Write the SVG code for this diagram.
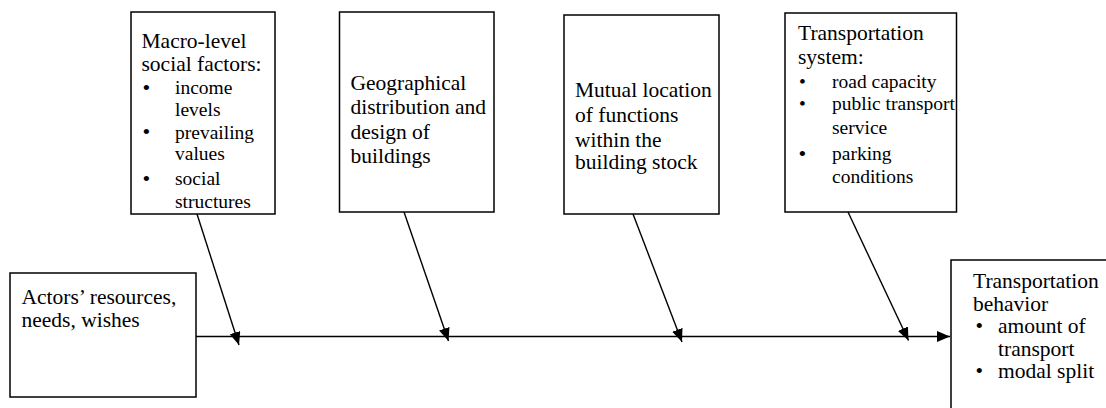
<svg xmlns="http://www.w3.org/2000/svg" width="1106" height="408" viewBox="0 0 1106 408">
  <style>
    .box { fill: #ffffff; stroke: #000000; stroke-width: 1.5; }
    .txt { font-family: 'Liberation Serif', Tinos, 'Times New Roman', 'DejaVu Serif', serif; font-size: 21.5px; fill: #000000; }
    .item { font-size: 19.5px; }
    .dot { font-size: 22px; }
    .link { fill: none; stroke: #000000; stroke-width: 1.4; marker-end: url(#head); }
  </style>
  <defs>
    <marker id="head" markerUnits="userSpaceOnUse" markerWidth="14" markerHeight="12" refX="13" refY="5.5" orient="auto">
      <path d="M0,0 L13,5.5 L0,11 Z" fill="#000000"/>
    </marker>
  </defs>
  <rect width="1106" height="408" fill="#ffffff"/>

  <g id="node-actors">
    <rect class="box" x="10" y="273" width="186" height="124"/>
    <text class="txt" x="21.5" y="303.5">Actors’ resources,</text>
    <text class="txt" x="21.5" y="326.5">needs, wishes</text>
  </g>

  <g id="node-macro">
    <rect class="box" x="131" y="12" width="144" height="202"/>
    <text class="txt" x="141.5" y="47.5">Macro-level</text>
    <text class="txt" x="141.5" y="71">social factors:</text>
    <text class="txt dot" x="142.5" y="94.5">•</text>
    <text class="txt item" x="175" y="94">income</text>
    <text class="txt item" x="175" y="115.5">levels</text>
    <text class="txt dot" x="142.5" y="139">•</text>
    <text class="txt item" x="175" y="138.5">prevailing</text>
    <text class="txt item" x="175" y="160">values</text>
    <text class="txt dot" x="142.5" y="185.5">•</text>
    <text class="txt item" x="175" y="185">social</text>
    <text class="txt item" x="175" y="208">structures</text>
  </g>

  <g id="node-geography">
    <rect class="box" x="339.5" y="12" width="154.5" height="200"/>
    <text class="txt" x="350.5" y="89.5">Geographical</text>
    <text class="txt" x="350.5" y="114">distribution and</text>
    <text class="txt" x="350.5" y="139">design of</text>
    <text class="txt" x="350.5" y="163">buildings</text>
  </g>

  <g id="node-location">
    <rect class="box" x="564" y="15" width="155" height="199"/>
    <text class="txt" x="575" y="96.5">Mutual location</text>
    <text class="txt" x="575" y="122">of functions</text>
    <text class="txt" x="575" y="146.5">within the</text>
    <text class="txt" x="575" y="169">building stock</text>
  </g>

  <g id="node-system">
    <rect class="box" x="785" y="13" width="171.5" height="199"/>
    <text class="txt" x="798" y="39.5">Transportation</text>
    <text class="txt" x="798" y="63.5">system:</text>
    <text class="txt item" x="799" y="87.5">•</text>
    <text class="txt item" x="832" y="87.5">road capacity</text>
    <text class="txt item" x="799" y="110">•</text>
    <text class="txt item" x="832" y="110">public transport</text>
    <text class="txt item" x="832" y="133.5">service</text>
    <text class="txt dot" x="798.5" y="160.5">•</text>
    <text class="txt item" x="832" y="160">parking</text>
    <text class="txt item" x="832" y="182.5">conditions</text>
  </g>

  <g id="node-behavior">
    <rect class="box" x="951" y="260" width="170" height="160"/>
    <text class="txt" x="973" y="288">Transportation</text>
    <text class="txt" x="973" y="310.5">behavior</text>
    <text class="txt" x="975.5" y="333">•</text>
    <text class="txt" x="998" y="333">amount of</text>
    <text class="txt" x="998" y="355.5">transport</text>
    <text class="txt" x="975.5" y="378">•</text>
    <text class="txt" x="998" y="378">modal split</text>
  </g>

  <g id="connectors">
    <line class="link" x1="196" y1="336.5" x2="950" y2="336.5"/>
    <line class="link" x1="197" y1="214" x2="239" y2="345"/>
    <line class="link" x1="404" y1="212" x2="448.5" y2="341"/>
    <line class="link" x1="633" y1="214" x2="682" y2="342"/>
    <line class="link" x1="848" y1="212" x2="908.5" y2="340.5"/>
  </g>
</svg>
